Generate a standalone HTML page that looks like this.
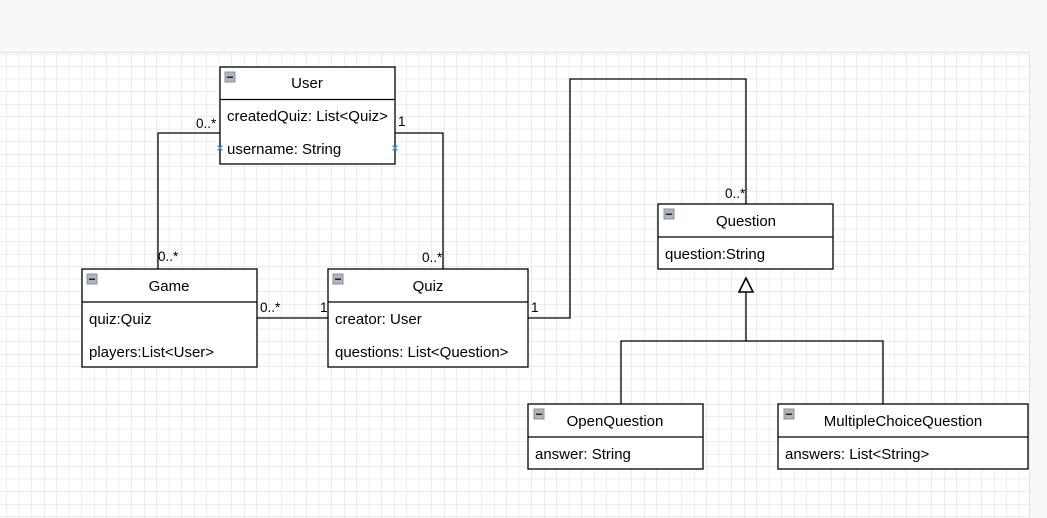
<!DOCTYPE html>
<html><head><meta charset="utf-8"><style>
html,body{margin:0;padding:0;width:1047px;height:518px;overflow:hidden;background:#fff;font-family:"Liberation Sans",Arial,sans-serif}
</style></head><body>
<svg width="1047" height="518" xmlns="http://www.w3.org/2000/svg" font-family="Liberation Sans, Arial, sans-serif" font-size="15">
<defs>
<pattern id="g" x="-6" y="4" width="50" height="50" patternUnits="userSpaceOnUse">
<path d="M12.5 0V50M25 0V50M37.5 0V50M0 12.5H50M0 25H50M0 37.5H50" stroke="#ececec" stroke-width="1" fill="none"/>
<path d="M0 0V50M0 0H50" stroke="#dcdcdc" stroke-width="1" fill="none"/>
</pattern>
</defs>
<rect x="0" y="0" width="1047" height="52" fill="#f8f8f8"/>
<rect x="0" y="52" width="1030" height="466" fill="#fff"/>
<rect x="0" y="53" width="1029" height="465" fill="url(#g)"/>
<line x1="0" y1="52.5" x2="1030" y2="52.5" stroke="#e0e0e0"/>
<line x1="1029.5" y1="52" x2="1029.5" y2="518" stroke="#e0e0e0"/>
<rect x="1030" y="52" width="17" height="466" fill="#f8f8f8"/>

<g fill="none" stroke="#000" stroke-width="1.3">
<polyline points="220,133 158,133 158,269"/>
<polyline points="395,133 443,133 443,269"/>
<line x1="257" y1="318" x2="328" y2="318"/>
<polyline points="528,318 570,318 570,79 746,79 746,204"/>
<polyline points="746,292 746,341"/>
<polyline points="621,404 621,341 883,341 883,404"/>
<polygon points="746,278 739,292 753,292" fill="#fff" stroke-width="1.6"/>
</g>

<g fill="#000" font-size="13.5">
<text x="196" y="128">0..*</text>
<text x="158" y="261">0..*</text>
<text x="398" y="126">1</text>
<text x="422" y="262">0..*</text>
<text x="260" y="312">0..*</text>
<text x="320" y="312">1</text>
<text x="531" y="312">1</text>
<text x="725" y="198">0..*</text>
</g>

<g font-size="15" fill="#000">
<rect x="220" y="67" width="175" height="97" fill="#fff" stroke="#000" stroke-width="1.3"/>
<line x1="220" y1="99.5" x2="395" y2="99.5" stroke="#000" stroke-width="1.3"/>
<text x="307" y="88" text-anchor="middle">User</text>
<text x="227" y="121">createdQuiz: List&lt;Quiz&gt;</text>
<text x="227" y="154">username: String</text>
<rect x="82" y="269" width="175" height="98" fill="#fff" stroke="#000" stroke-width="1.3"/>
<line x1="82" y1="302" x2="257" y2="302" stroke="#000" stroke-width="1.3"/>
<text x="169" y="291" text-anchor="middle">Game</text>
<text x="89" y="324">quiz:Quiz</text>
<text x="89" y="357">players:List&lt;User&gt;</text>
<rect x="328" y="269" width="200" height="98" fill="#fff" stroke="#000" stroke-width="1.3"/>
<line x1="328" y1="302" x2="528" y2="302" stroke="#000" stroke-width="1.3"/>
<text x="428" y="291" text-anchor="middle">Quiz</text>
<text x="335" y="324">creator: User</text>
<text x="335" y="357">questions: List&lt;Question&gt;</text>
<rect x="658" y="204" width="175" height="65" fill="#fff" stroke="#000" stroke-width="1.3"/>
<line x1="658" y1="237" x2="833" y2="237" stroke="#000" stroke-width="1.3"/>
<text x="746" y="226" text-anchor="middle">Question</text>
<text x="665" y="259">question:String</text>
<rect x="528" y="404" width="175" height="65" fill="#fff" stroke="#000" stroke-width="1.3"/>
<line x1="528" y1="437" x2="703" y2="437" stroke="#000" stroke-width="1.3"/>
<text x="615" y="426" text-anchor="middle">OpenQuestion</text>
<text x="535" y="459">answer: String</text>
<rect x="778" y="404" width="250" height="65" fill="#fff" stroke="#000" stroke-width="1.3"/>
<line x1="778" y1="437" x2="1028" y2="437" stroke="#000" stroke-width="1.3"/>
<text x="903" y="426" text-anchor="middle">MultipleChoiceQuestion</text>
<text x="785" y="459">answers: List&lt;String&gt;</text>
</g>

<g>
<g transform="translate(225,72)"><rect width="10" height="10" fill="#b0b4bc" stroke="#8a8e96"/><rect x="2" y="4.5" width="6" height="1.5" fill="#222"/></g>
<g transform="translate(87,274)"><rect width="10" height="10" fill="#b0b4bc" stroke="#8a8e96"/><rect x="2" y="4.5" width="6" height="1.5" fill="#222"/></g>
<g transform="translate(333,274)"><rect width="10" height="10" fill="#b0b4bc" stroke="#8a8e96"/><rect x="2" y="4.5" width="6" height="1.5" fill="#222"/></g>
<g transform="translate(664,209)"><rect width="10" height="10" fill="#b0b4bc" stroke="#8a8e96"/><rect x="2" y="4.5" width="6" height="1.5" fill="#222"/></g>
<g transform="translate(534,409)"><rect width="10" height="10" fill="#b0b4bc" stroke="#8a8e96"/><rect x="2" y="4.5" width="6" height="1.5" fill="#222"/></g>
<g transform="translate(784,409)"><rect width="10" height="10" fill="#b0b4bc" stroke="#8a8e96"/><rect x="2" y="4.5" width="6" height="1.5" fill="#222"/></g>
</g>
<g stroke="#4aa8e0" stroke-width="1.3">
<path d="M217.5 145.5l5 5M222.5 145.5l-5 5"/>
<path d="M392.5 145.5l5 5M397.5 145.5l-5 5"/>
</g>
</svg>
</body></html>
